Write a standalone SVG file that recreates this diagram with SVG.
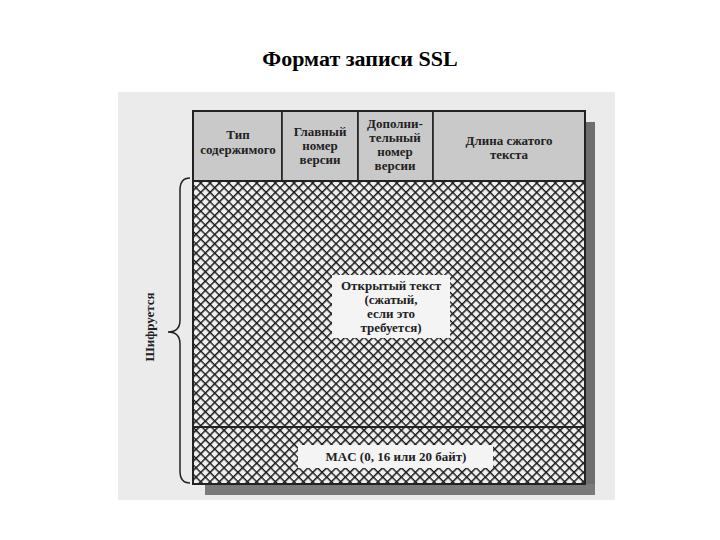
<svg xmlns="http://www.w3.org/2000/svg" width="720" height="540" viewBox="0 0 720 540">
<defs>
<pattern id="hatch" patternUnits="userSpaceOnUse" width="6.6" height="6.6" patternTransform="rotate(45)">
<rect width="6.6" height="6.6" fill="#f0f0f0"/>
<path d="M0 0H6.6M0 0V6.6" stroke="#1a1a1a" stroke-width="3" fill="none"/>
</pattern>
</defs>
<style>
.t{font-family:"Liberation Serif","DejaVu Serif",serif;font-weight:bold;fill:#222;text-anchor:middle}
.h{font-size:13px}
.cell{fill:#c9c9c9;stroke:#222;stroke-width:1.6}
.frame{fill:none;stroke:#222;stroke-width:2}
</style>
<rect width="720" height="540" fill="#ffffff"/>
<text x="360" y="66" class="t" style="font-size:22px;fill:#000">Формат записи SSL</text>
<rect x="118" y="92" width="497" height="408" fill="#ebebeb"/>
<g id="shadow">
<rect x="585" y="122" width="10" height="372" fill="#6e6e6e"/>
<rect x="205" y="484" width="390" height="11" fill="#7a7a7a"/>
</g>
<g id="header">
<rect class="cell" x="193" y="111" width="89" height="70"/>
<rect class="cell" x="282" y="111" width="76" height="70"/>
<rect class="cell" x="358" y="111" width="75" height="70"/>
<rect class="cell" x="433" y="111" width="152" height="70"/>
<text class="t h" x="238" y="139">Тип</text>
<text class="t h" x="238" y="154">содержимого</text>
<text class="t h" x="320" y="136">Главный</text>
<text class="t h" x="320" y="150">номер</text>
<text class="t h" x="320" y="164">версии</text>
<text class="t h" x="395" y="128">Дополни-</text>
<text class="t h" x="395" y="142">тельный</text>
<text class="t h" x="395" y="156">номер</text>
<text class="t h" x="395" y="170">версии</text>
<text class="t h" x="509" y="145">Длина сжатого</text>
<text class="t h" x="509" y="159">текста</text>
</g>
<g id="plaintext">
<rect x="193" y="181" width="392" height="246" fill="url(#hatch)" stroke="#222" stroke-width="2"/>
<rect x="332" y="275" width="118" height="63" fill="#f4f4f4"/>
<text class="t h" x="391" y="290">Открытый текст</text>
<text class="t h" x="391" y="304">(сжатый,</text>
<text class="t h" x="391" y="318">если это</text>
<text class="t h" x="391" y="332">требуется)</text>
</g>
<g id="mac">
<rect x="193" y="427" width="392" height="57" fill="url(#hatch)" stroke="#222" stroke-width="2"/>
<rect x="298" y="445" width="195" height="23" fill="#f4f4f4"/>
<text class="t h" x="396" y="461">MAC (0, 16 или 20 байт)</text>
</g>
<rect class="frame" x="193" y="111" width="392" height="373"/>
<g id="connectors">
<path d="M190 178 Q180 178 180 190 V320 Q180 332 168 332 Q180 332 180 344 V471 Q180 483 190 483" fill="none" stroke="#222" stroke-width="1.5"/>
</g>
<g id="encrypted-label">
<text class="t" x="0" y="0" style="font-size:13px" transform="translate(154 327) rotate(-90)">Шифруется</text>
</g>
</svg>
